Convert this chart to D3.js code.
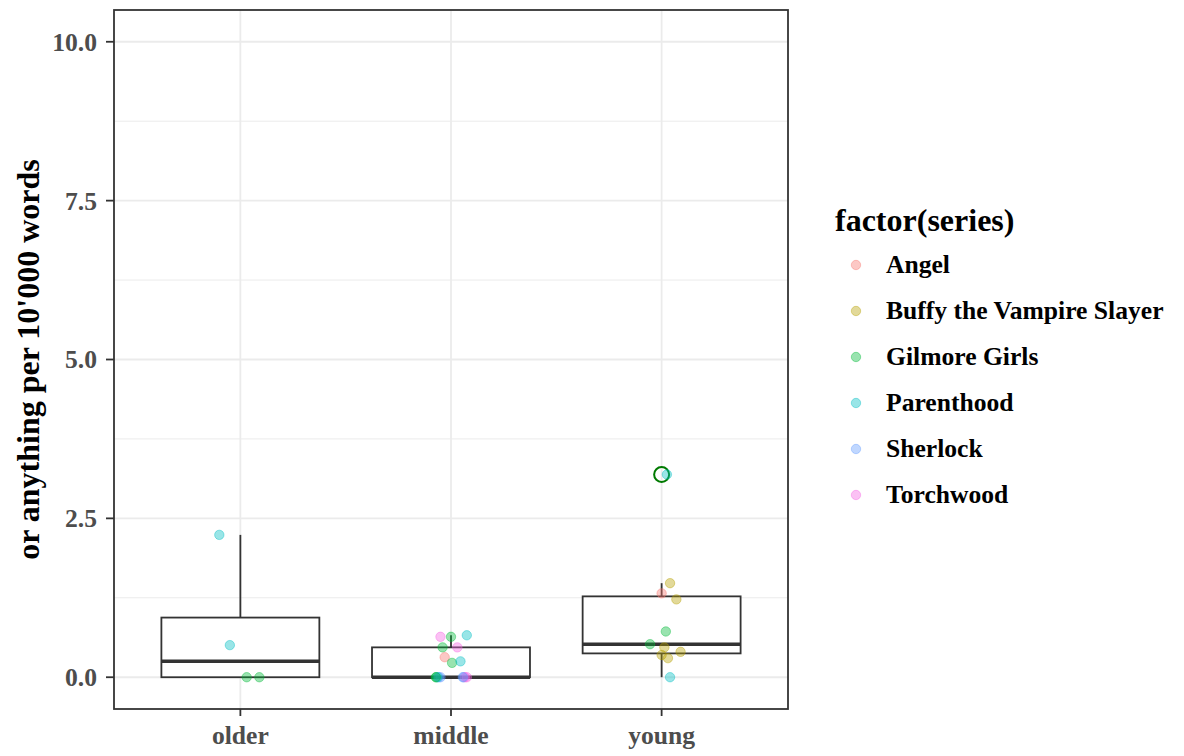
<!DOCTYPE html>
<html>
<head>
<meta charset="utf-8">
<script src="https://cdn.jsdelivr.net/npm/d3@7"></script>
<style>
  html, body { margin: 0; padding: 0; background: #ffffff; }
  svg { display: block; }
  text { font-family: "Liberation Serif", "DejaVu Serif", serif; font-weight: bold; }
</style>
</head>
<body>
<svg id="chart" width="1184" height="756"></svg>
<script>
// Age groups on the x axis
const ageGroups = ["older", "middle", "young"];

// TV series and their hue colours
const seriesNames = ["Angel", "Buffy the Vampire Slayer", "Gilmore Girls", "Parenthood", "Sherlock", "Torchwood"];
const seriesColors = ["#F8766D", "#B79F00", "#00BA38", "#00BFC4", "#619CFF", "#F564E3"];

// y axis ticks
const yTicks = [0, 2.5, 5, 7.5, 10];
const yMinorTicks = [1.25, 3.75, 6.25, 8.75];

// One entry per observation: age group, series, rate per 10'000 words
const obsGroup = [
  "older", "older", "older", "older",
  "middle", "middle", "middle", "middle", "middle", "middle", "middle", "middle",
  "middle", "middle", "middle", "middle", "middle", "middle", "middle", "middle", "middle",
  "young", "young", "young", "young", "young", "young", "young", "young", "young", "young", "young"
];
const obsSeries = [
  "Parenthood", "Parenthood", "Gilmore Girls", "Gilmore Girls",
  "Torchwood", "Gilmore Girls", "Parenthood", "Gilmore Girls", "Torchwood", "Angel", "Gilmore Girls", "Parenthood",
  "Gilmore Girls", "Sherlock", "Sherlock", "Torchwood", "Sherlock", "Torchwood", "Parenthood", "Sherlock", "Gilmore Girls",
  "Parenthood", "Buffy the Vampire Slayer", "Angel", "Buffy the Vampire Slayer", "Gilmore Girls", "Gilmore Girls",
  "Buffy the Vampire Slayer", "Buffy the Vampire Slayer", "Buffy the Vampire Slayer", "Buffy the Vampire Slayer", "Parenthood"
];
const obsValue = [
  2.24, 0.505, 0, 0,
  0.636, 0.636, 0.66, 0.47, 0.47, 0.315, 0.226, 0.25,
  0, 0, 0, 0, 0, 0, 0, 0, 0,
  3.19, 1.48, 1.32, 1.225, 0.72, 0.52, 0.47, 0.40, 0.35, 0.30, 0
];
// horizontal jitter of each observation, in category widths
const jitterOffsets = [
  -0.10, -0.05, 0.03, 0.09,
  -0.05, 0.0, 0.075, -0.04, 0.03, -0.03, 0.005, 0.045,
  -0.07, -0.05, 0.06, 0.075, -0.058, 0.066, -0.064, 0.056, -0.072,
  0.025, 0.04, 0.0, 0.07, 0.02, -0.055, 0.013, 0.09, 0.0, 0.03, 0.04
];

const svg = d3.select("#chart");
const panel = { left: 114, right: 788, top: 10, bottom: 709 };

// discrete x scale with 0.6 category of padding on each side
const x = d3.scalePoint().domain(ageGroups).range([panel.left, panel.right]).padding(0.6);
const step = x.step();

const y = d3.scaleLinear().domain([-0.5, 10.5]).range([panel.bottom, panel.top]);
const color = d3.scaleOrdinal().domain(seriesNames).range(seriesColors);

// Grid
const grid = svg.append("g");
grid.selectAll("line.minor").data(yMinorTicks).join("line")
  .attr("x1", panel.left).attr("x2", panel.right)
  .attr("y1", d => y(d)).attr("y2", d => y(d))
  .attr("stroke", "#EBEBEB").attr("stroke-width", 1);
grid.selectAll("line.major").data(yTicks).join("line")
  .attr("x1", panel.left).attr("x2", panel.right)
  .attr("y1", d => y(d)).attr("y2", d => y(d))
  .attr("stroke", "#EBEBEB").attr("stroke-width", 1.8);
grid.selectAll("line.vmajor").data(ageGroups).join("line")
  .attr("x1", d => x(d)).attr("x2", d => x(d))
  .attr("y1", panel.top).attr("y2", panel.bottom)
  .attr("stroke", "#EBEBEB").attr("stroke-width", 1.8);

// Boxplot statistics per age group (R type-7 quantiles)
const obs = obsValue.map((v, i) => ({ group: obsGroup[i], series: obsSeries[i], value: v, jit: jitterOffsets[i] }));
const stats = ageGroups.map(g => {
  const vals = obs.filter(o => o.group === g).map(o => o.value).sort(d3.ascending);
  const q1 = d3.quantile(vals, 0.25), med = d3.quantile(vals, 0.5), q3 = d3.quantile(vals, 0.75);
  const iqr = q3 - q1;
  const lo = d3.min(vals.filter(v => v >= q1 - 1.5 * iqr));
  const hi = d3.max(vals.filter(v => v <= q3 + 1.5 * iqr));
  const outliers = vals.filter(v => v < lo || v > hi);
  return { g, q1, med, q3, lo, hi, outliers };
});

const boxHalf = 0.375 * step;
const boxes = svg.append("g");
stats.forEach(s => {
  const cx = x(s.g);
  boxes.append("line").attr("x1", cx).attr("x2", cx).attr("y1", y(s.q3)).attr("y2", y(s.hi))
    .attr("stroke", "#333333").attr("stroke-width", 1.8);
  boxes.append("line").attr("x1", cx).attr("x2", cx).attr("y1", y(s.q1)).attr("y2", y(s.lo))
    .attr("stroke", "#333333").attr("stroke-width", 1.8);
  boxes.append("rect")
    .attr("x", cx - boxHalf).attr("width", 2 * boxHalf)
    .attr("y", y(s.q3)).attr("height", y(s.q1) - y(s.q3))
    .attr("fill", "#ffffff").attr("stroke", "#333333").attr("stroke-width", 1.8);
  boxes.append("line").attr("x1", cx - boxHalf).attr("x2", cx + boxHalf)
    .attr("y1", y(s.med)).attr("y2", y(s.med))
    .attr("stroke", "#333333").attr("stroke-width", 3.6);
  s.outliers.forEach(v => {
    boxes.append("circle").attr("cx", cx).attr("cy", y(v)).attr("r", 7.5)
      .attr("fill", "none").attr("stroke", "#007a00").attr("stroke-width", 2);
  });
});

// Jittered points
svg.append("g").selectAll("circle").data(obs).join("circle")
  .attr("cx", d => x(d.group) + d.jit * step)
  .attr("cy", d => y(d.value))
  .attr("r", 4.7)
  .attr("fill", d => color(d.series)).attr("fill-opacity", 0.4)
  .attr("stroke", d => color(d.series)).attr("stroke-opacity", 0.4).attr("stroke-width", 1);

// Panel border
svg.append("rect")
  .attr("x", panel.left).attr("y", panel.top)
  .attr("width", panel.right - panel.left).attr("height", panel.bottom - panel.top)
  .attr("fill", "none").attr("stroke", "#333333").attr("stroke-width", 1.8);

// Y axis
const yAxis = svg.append("g");
yAxis.selectAll("line").data(yTicks).join("line")
  .attr("x1", panel.left - 8).attr("x2", panel.left)
  .attr("y1", d => y(d)).attr("y2", d => y(d))
  .attr("stroke", "#333333").attr("stroke-width", 1.8);
yAxis.selectAll("text").data(yTicks).join("text")
  .attr("x", panel.left - 17).attr("y", d => y(d)).attr("dy", "0.35em")
  .attr("text-anchor", "end").attr("font-size", 25.6).attr("fill", "#4D4D4D")
  .text(d => d3.format(".1f")(d));

// X axis
const xAxis = svg.append("g");
xAxis.selectAll("line").data(ageGroups).join("line")
  .attr("x1", d => x(d)).attr("x2", d => x(d))
  .attr("y1", panel.bottom).attr("y2", panel.bottom + 7)
  .attr("stroke", "#333333").attr("stroke-width", 1.8);
xAxis.selectAll("text").data(ageGroups).join("text")
  .attr("x", d => x(d)).attr("y", 744)
  .attr("text-anchor", "middle").attr("font-size", 25.6).attr("fill", "#4D4D4D")
  .text(d => d);

// Y axis title
svg.append("text")
  .attr("transform", `translate(39,${(panel.top + panel.bottom) / 2}) rotate(-90)`)
  .attr("text-anchor", "middle").attr("font-size", 32).attr("fill", "#000000")
  .text("or anything per 10'000 words");

// Legend
const legend = svg.append("g");
legend.append("text").attr("x", 835).attr("y", 231)
  .attr("font-size", 32).attr("fill", "#000000").text("factor(series)");
const rows = legend.selectAll("g.row").data(seriesNames).join("g")
  .attr("transform", (d, i) => `translate(0,${265 + i * 46})`);
rows.append("circle").attr("cx", 856).attr("cy", 0).attr("r", 4.7)
  .attr("fill", d => color(d)).attr("fill-opacity", 0.4)
  .attr("stroke", d => color(d)).attr("stroke-opacity", 0.4).attr("stroke-width", 1);
rows.append("text").attr("x", 886).attr("y", 0).attr("dy", "0.33em")
  .attr("font-size", 25.6).attr("fill", "#000000").text(d => d);
</script>
</body>
</html>
